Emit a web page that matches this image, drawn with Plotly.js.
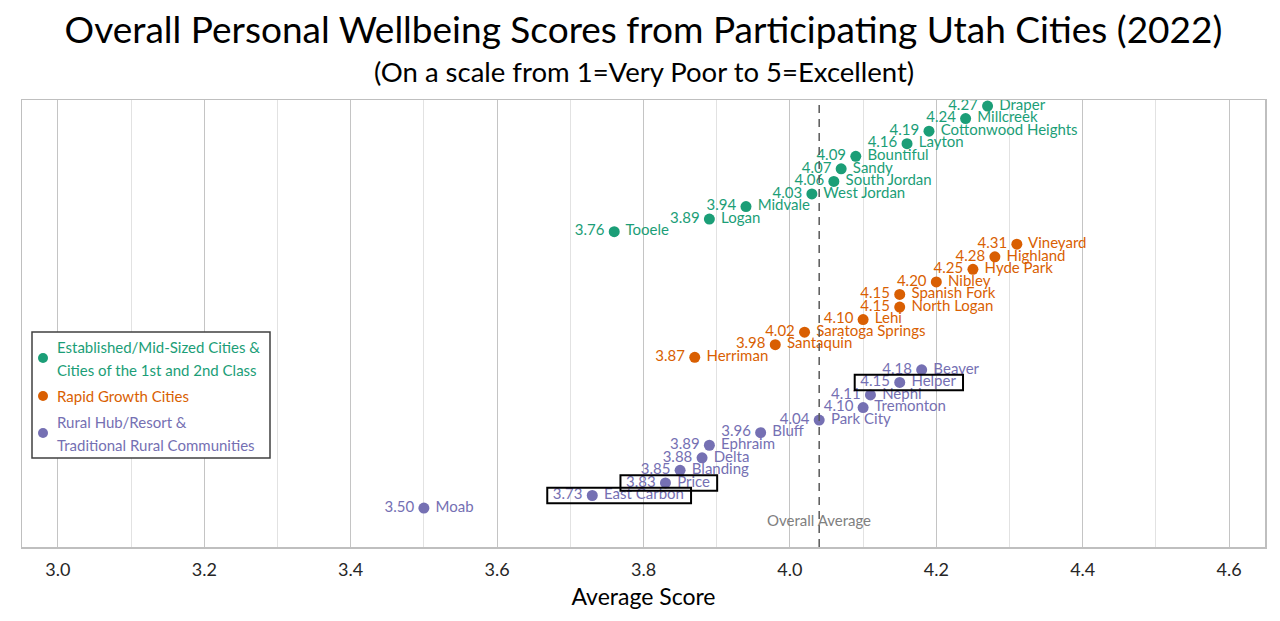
<!DOCTYPE html>
<html>
<head>
<meta charset="utf-8">
<script src="https://cdn.plot.ly/plotly-3.0.1.min.js"></script>
<style>
  html, body { margin: 0; padding: 0; background: #ffffff; }
  #chart { width: 1280px; height: 621px; }
</style>
</head>
<body>
<div id="chart"></div>
<script>
// Survey results: average wellbeing score per city, grouped by city type
const establishedCities = ['Draper', 'Millcreek', 'Cottonwood Heights', 'Layton', 'Bountiful', 'Sandy',
  'South Jordan', 'West Jordan', 'Midvale', 'Logan', 'Tooele'];
const establishedScores = [4.27, 4.24, 4.19, 4.16, 4.09, 4.07, 4.06, 4.03, 3.94, 3.89, 3.76];

const rapidGrowthCities = ['Vineyard', 'Highland', 'Hyde Park', 'Nibley', 'Spanish Fork', 'North Logan',
  'Lehi', 'Saratoga Springs', 'Santaquin', 'Herriman'];
const rapidGrowthScores = [4.31, 4.28, 4.25, 4.20, 4.15, 4.15, 4.10, 4.02, 3.98, 3.87];

const ruralCities = ['Beaver', 'Helper', 'Nephi', 'Tremonton', 'Park City', 'Bluff', 'Ephraim', 'Delta',
  'Blanding', 'Price', 'East Carbon', 'Moab'];
const ruralScores = [4.18, 4.15, 4.11, 4.10, 4.04, 3.96, 3.89, 3.88, 3.85, 3.83, 3.73, 3.50];

const groupNames = ['Established/Mid-Sized Cities &<br>Cities of the 1st and 2nd Class',
  'Rapid Growth Cities', 'Rural Hub/Resort &<br>Traditional Rural Communities'];

const overallAverage = 4.04;
const highlightedCities = ['Helper', 'Price', 'East Carbon'];

const xTickValues = [3.0, 3.2, 3.4, 3.6, 3.8, 4.0, 4.2, 4.4, 4.6];
const xTickLabels = ['3.0', '3.2', '3.4', '3.6', '3.8', '4.0', '4.2', '4.4', '4.6'];

// ---- styling ----
const FONT = 'Lato, "Open Sans", sans-serif';
const COLORS = ['#1b9e77', '#d95f02', '#7570b3'];
const W = 1280, H = 621;
const M = { l: 22, r: 15, t: 100, b: 74 };
const X_RANGE = [2.951, 4.649];
const Y_RANGE = [36.1, 0.52];
const LABEL_SIZE = 15;

const plotW = W - M.l - M.r, plotH = H - M.t - M.b;
const pxPerX = plotW / (X_RANGE[1] - X_RANGE[0]);
const px = v => (v - M.l) / plotW;          // pixel -> paper x
const py = v => (H - M.b - v) / plotH;      // pixel -> paper y

const groups = [
  { cities: establishedCities, scores: establishedScores },
  { cities: rapidGrowthCities, scores: rapidGrowthScores },
  { cities: ruralCities, scores: ruralScores }
];

const traces = [];
const shapes = [];
const annotations = [];

const measure = (() => {
  const ctx = document.createElement('canvas').getContext('2d');
  return (txt, size) => { ctx.font = size + 'px Lato'; return ctx.measureText(txt).width; };
})();

let row = 1;
groups.forEach((g, gi) => {
  const rows = g.cities.map((_, i) => row + i);
  row += g.cities.length;
  // score values on the left of each dot
  traces.push({
    type: 'scatter', mode: 'markers+text',
    x: g.scores, y: rows,
    text: g.scores.map(v => v.toFixed(2)),
    textposition: 'middle left',
    textfont: { family: FONT, size: LABEL_SIZE, color: COLORS[gi] },
    marker: { size: 14, color: 'rgba(0,0,0,0)' },
    showlegend: false, hoverinfo: 'skip', cliponaxis: false
  });
  // dots with city names on the right
  traces.push({
    type: 'scatter', mode: 'markers+text',
    x: g.scores, y: rows,
    text: g.cities.map(c => ' ' + c),
    textposition: 'middle right',
    textfont: { family: FONT, size: LABEL_SIZE, color: COLORS[gi] },
    marker: { size: 11, color: COLORS[gi] },
    name: groupNames[gi], showlegend: false, hoverinfo: 'skip', cliponaxis: false
  });
  // outline around highlighted cities
  g.cities.forEach((c, i) => {
    if (!highlightedCities.includes(c)) return;
    const v = g.scores[i];
    const nameW = measure(' ' + c, LABEL_SIZE);
    shapes.push({
      type: 'rect', xref: 'x', yref: 'y',
      x0: v - 45 / pxPerX, x1: v + (8 + nameW + 7) / pxPerX,
      y0: rows[i] - 0.62, y1: rows[i] + 0.62,
      line: { color: '#000000', width: 2 }, fillcolor: 'rgba(0,0,0,0)', layer: 'above'
    });
  });
});

// overall average reference line
shapes.push({
  type: 'line', xref: 'x', yref: 'paper', x0: overallAverage, x1: overallAverage, y0: 0, y1: 1,
  line: { color: '#595959', width: 1.5, dash: '8px,6px' }, layer: 'above'
});
annotations.push({
  xref: 'x', yref: 'paper', x: overallAverage, y: py(520), text: 'Overall Average',
  showarrow: false, xanchor: 'center', yanchor: 'middle',
  font: { family: FONT, size: 15, color: '#808080' }
});

// subtitle
annotations.push({
  xref: 'paper', yref: 'paper', x: 0.5, y: py(72), text: '(On a scale from 1=Very Poor to 5=Excellent)',
  showarrow: false, xanchor: 'center', yanchor: 'middle',
  font: { family: FONT, size: 27.5, color: '#000000' }
});

// legend box
shapes.push({
  type: 'rect', xref: 'paper', yref: 'paper', x0: px(32), x1: px(270), y0: py(332), y1: py(458),
  line: { color: '#404040', width: 1.5 }, fillcolor: '#ffffff', layer: 'above'
});
const legendDotY = [358, 396, 433];
const legendLines = [
  [groupNames[0].split('<br>')[0], 347, 0], [groupNames[0].split('<br>')[1], 370, 0],
  [groupNames[1], 396, 1],
  [groupNames[2].split('<br>')[0], 422, 2], [groupNames[2].split('<br>')[1], 445, 2]
];
legendDotY.forEach((y, i) => {
  shapes.push({
    type: 'circle', xref: 'paper', yref: 'paper', xsizemode: 'pixel', ysizemode: 'pixel',
    xanchor: px(43), yanchor: py(y), x0: -5, x1: 5, y0: -5, y1: 5,
    fillcolor: COLORS[i], line: { width: 0 }, layer: 'above'
  });
});
legendLines.forEach(([t, y, ci]) => {
  annotations.push({
    xref: 'paper', yref: 'paper', x: px(55), y: py(y), text: t,
    showarrow: false, xanchor: 'left', yanchor: 'middle',
    font: { family: FONT, size: 15, color: COLORS[ci] }
  });
});

const layout = {
  width: W, height: H, margin: M,
  paper_bgcolor: '#ffffff', plot_bgcolor: '#ffffff',
  showlegend: false, hovermode: false,
  font: { family: FONT, color: '#262626' },
  title: {
    text: 'Overall Personal Wellbeing Scores from Participating Utah Cities (2022)',
    font: { family: FONT, size: 37, color: '#000000' },
    x: 0.5, xanchor: 'center', xref: 'paper', y: 1 - 30 / H, yanchor: 'middle', yref: 'container'
  },
  xaxis: {
    range: X_RANGE, tickmode: 'array', tickvals: xTickValues, ticktext: xTickLabels,
    showgrid: true, gridcolor: '#c4c4c4', gridwidth: 1,
    minor: { tickmode: 'linear', tick0: 3.0, dtick: 0.1, showgrid: true, gridcolor: '#e2e2e2', gridwidth: 1, ticks: '' },
    zeroline: false, showline: true, mirror: true, linecolor: '#bfbfbf', linewidth: 1.5,
    ticks: '', ticklabelstandoff: 6, tickfont: { family: FONT, size: 18, color: '#262626' },
    title: { text: 'Average Score', font: { family: FONT, size: 23, color: '#000000' }, standoff: 10 }
  },
  yaxis: {
    range: Y_RANGE, showticklabels: false, showgrid: false, zeroline: false,
    showline: true, mirror: true, linecolor: '#bfbfbf', linewidth: 1.5, ticks: ''
  },
  shapes: shapes,
  annotations: annotations
};

Plotly.newPlot('chart', traces, layout, { staticPlot: true, displayModeBar: false });
</script>
</body>
</html>
